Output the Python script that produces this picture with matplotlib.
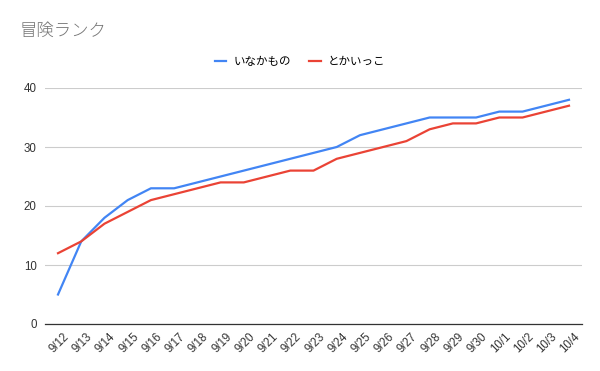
import matplotlib
matplotlib.use('Agg')
import matplotlib.pyplot as plt
import matplotlib.transforms as mtransforms

plt.rcParams['font.family'] = ['Liberation Sans', 'Noto Sans CJK JP', 'DejaVu Sans']

# data
dates = ['9/12', '9/13', '9/14', '9/15', '9/16', '9/17', '9/18', '9/19', '9/20', '9/21', '9/22', '9/23',
         '9/24', '9/25', '9/26', '9/27', '9/28', '9/29', '9/30', '10/1', '10/2', '10/3', '10/4']
inakamono = [5, 14, 18, 21, 23, 23, 24, 25, 26, 27, 28, 29, 30, 32, 33, 34, 35, 35, 35, 36, 36, 37, 38]
tokaikko = [12, 14, 17, 19, 21, 22, 23, 24, 24, 25, 26, 26, 28, 29, 30, 31, 33, 34, 34, 35, 35, 36, 37]
yticks = [0, 10, 20, 30, 40]

fig = plt.figure(figsize=(6, 3.71), dpi=100)
ax = fig.add_axes([45/600, 1 - 324/371, (582-45)/600, (324-88)/371])

x = list(range(len(dates)))
ax.plot(x, inakamono, color='#4285F4', lw=1.6, label='いなかもの')
ax.plot(x, tokaikko, color='#EA4335', lw=1.6, label='とかいっこ')

ax.set_xlim(-0.56, len(dates) - 1 + 0.56)
ax.set_ylim(0, 40)
ax.set_yticks(yticks)
ax.set_xticks(x)
ax.set_xticklabels(dates, rotation=45, ha='right', rotation_mode='anchor')
ax.tick_params(axis='both', length=0, labelsize=8.3, colors='#333333')
ax.tick_params(axis='y', pad=6)
ax.tick_params(axis='x', pad=5)
# nudge rotated labels a little to the right, like the original
offset = mtransforms.ScaledTranslation(5/100, 0, fig.dpi_scale_trans)
for lbl in ax.get_xticklabels():
    lbl.set_transform(lbl.get_transform() + offset)
ax.grid(axis='y', color='#cccccc', lw=0.8)
ax.set_axisbelow(True)
for s in ['top', 'right', 'left']:
    ax.spines[s].set_visible(False)
ax.spines['bottom'].set_color('#333333')
ax.spines['bottom'].set_linewidth(0.9)

fig.text(20/600, 1 - 31/371, '冒険ランク', fontsize=12.5, color='#757575', va='center', ha='left',
         family=['Noto Sans CJK JP'], weight='light')
fig.legend(loc='center', bbox_to_anchor=(300/600, 1 - 62/371), ncol=2, frameon=False,
           fontsize=8.3, handlelength=1.0, handletextpad=0.6, columnspacing=1.6)

fig.savefig('out.png', dpi=100, facecolor='white')
